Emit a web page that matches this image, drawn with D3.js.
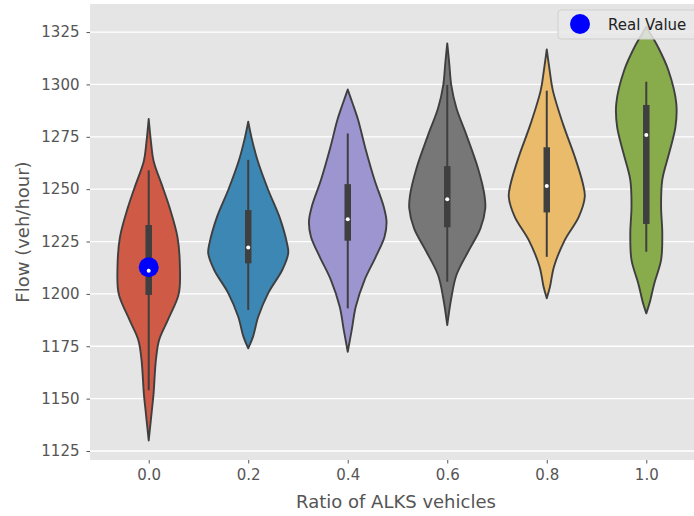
<!DOCTYPE html>
<html>
<head>
<meta charset="utf-8">
<script src="https://cdn.jsdelivr.net/npm/d3@7"></script>
<style>
  html, body { margin: 0; padding: 0; background: #fff; }
  text { font-family: "DejaVu Sans", sans-serif; }
</style>
</head>
<body>
<div id="chart"></div>
<script>
// categories on the x axis (ratio of ALKS vehicles)
const categories = ["0.0", "0.2", "0.4", "0.6", "0.8", "1.0"];
const violinColors = ["#CF5A45", "#3C87B4", "#9C95D0", "#777777", "#EBBB6C", "#88AC4C"];
const yTicks = [1125, 1150, 1175, 1200, 1225, 1250, 1275, 1300, 1325];

// violin outlines: [flow, relative density]
const density00 = [[1283.5, 0], [1272, 0.06], [1263.6, 0.12], [1250.9, 0.35], [1241.3, 0.52], [1227, 0.72],
  [1213, 0.78], [1200, 0.75], [1187.6, 0.48], [1178, 0.26], [1168.5, 0.18], [1152, 0.12], [1144.6, 0.08], [1130, 0]];
const density02 = [[1282.2, 0], [1274, 0.09], [1263.9, 0.23], [1249.6, 0.5], [1236.8, 0.78], [1224.1, 0.97],
  [1219.4, 1.0], [1211.4, 0.85], [1200.4, 0.5], [1189.1, 0.25], [1179.6, 0.12], [1174, 0]];
const density04 = [[1297.6, 0], [1291, 0.12], [1283, 0.26], [1270.3, 0.43], [1254.4, 0.67], [1241.6, 0.9],
  [1234.5, 0.97], [1227.3, 0.92], [1217.7, 0.7], [1206.6, 0.42], [1193.9, 0.2], [1182.8, 0.1], [1172.4, 0]];
const density06 = [[1319.6, 0], [1310, 0.05], [1299.7, 0.1], [1288.6, 0.23], [1275.8, 0.48], [1259.9, 0.77],
  [1247.2, 0.93], [1240.8, 0.95], [1231.3, 0.83], [1220.1, 0.52], [1209, 0.23], [1197.9, 0.1], [1185.1, 0]];
const density08 = [[1316.7, 0], [1307, 0.07], [1297.3, 0.15], [1281.4, 0.4], [1265.5, 0.7], [1252.8, 0.9],
  [1246.4, 0.95], [1236.8, 0.8], [1225.7, 0.45], [1213, 0.18], [1203.4, 0.08], [1197.9, 0]];
const density10 = [[1327.5, 0], [1323, 0.14], [1318, 0.29], [1306.9, 0.55], [1291, 0.75], [1279.8, 0.73],
  [1267.1, 0.57], [1254.4, 0.4], [1241.6, 0.37], [1228.9, 0.4], [1216.2, 0.37], [1205, 0.2], [1195.5, 0.08], [1190.7, 0]];
const densities = [density00, density02, density04, density06, density08, density10];

// inner box statistics
const medians = [1211, 1222.2, 1235.6, 1245.2, 1251.5, 1275.8];
const q1s = [1199.5, 1214.6, 1225.4, 1231.8, 1238.9, 1233.4];
const q3s = [1232.9, 1240, 1252.4, 1261, 1270, 1290.2];
const whiskerLows = [1154, 1192.3, 1193.1, 1205.8, 1217.7, 1220.1];
const whiskerHighs = [1259, 1264, 1276.6, 1299.7, 1297, 1301.3];

// measured value
const realValues = [{ category: "0.0", flow: 1212.7 }];

const W = 694, H = 516;
const plot = { left: 90, top: 4, right: 705, bottom: 460 };
const dark = "#3f3f3f";

const svg = d3.select("#chart").append("svg")
  .attr("width", W).attr("height", H);

const xScale = d3.scaleLinear().domain([-0.59, 5.59]).range([plot.left, plot.right]);
const xPos = (c) => xScale(categories.indexOf(c));
const yScale = d3.scaleLinear().domain([1120.7, 1338.4]).range([plot.bottom, plot.top]);
const wScale = d3.scaleLinear().domain([0, 1]).range([0, 40]);

// background
svg.append("rect")
  .attr("x", plot.left).attr("y", plot.top)
  .attr("width", plot.right - plot.left).attr("height", plot.bottom - plot.top)
  .attr("fill", "#E5E5E5");

// horizontal grid
svg.append("g")
  .selectAll("line")
  .data(yTicks)
  .enter()
  .append("line")
  .attr("x1", plot.left).attr("x2", plot.right)
  .attr("y1", (d) => yScale(d)).attr("y2", (d) => yScale(d))
  .attr("stroke", "#fff").attr("stroke-width", 1.3);

// Y axis
const yAxis = svg.append("g")
  .attr("transform", `translate(${plot.left},0)`)
  .call(d3.axisLeft(yScale).tickValues(yTicks).tickSize(3.5).tickPadding(7).tickFormat(d3.format("d")));
yAxis.select(".domain").remove();
yAxis.selectAll("line").attr("stroke", "#555");
yAxis.selectAll("text").attr("fill", "#555").style("font-size", "15px");

// X axis
const xAxis = svg.append("g")
  .attr("transform", `translate(0,${plot.bottom})`)
  .call(d3.axisBottom(xScale).tickValues(d3.range(categories.length))
    .tickSize(3.5).tickPadding(6).tickFormat((i) => categories[i]));
xAxis.select(".domain").remove();
xAxis.selectAll("line").attr("stroke", "#555");
xAxis.selectAll("text").attr("fill", "#555").style("font-size", "15px");

// axis labels
svg.append("text")
  .attr("x", 396).attr("y", 508)
  .attr("text-anchor", "middle")
  .attr("fill", "#555").style("font-size", "18px")
  .text("Ratio of ALKS vehicles");

svg.append("text")
  .attr("transform", `translate(29,232) rotate(-90)`)
  .attr("text-anchor", "middle")
  .attr("fill", "#555").style("font-size", "18px")
  .text("Flow (veh/hour)");

// violins
categories.forEach((c, i) => {
  const cx = xPos(c);
  const area = d3.area()
    .curve(d3.curveCatmullRom.alpha(0.5))
    .y((d) => yScale(d[0]))
    .x0((d) => cx - wScale(d[1]))
    .x1((d) => cx + wScale(d[1]));

  svg.append("path")
    .datum(densities[i])
    .attr("d", area)
    .attr("fill", violinColors[i])
    .attr("stroke", dark)
    .attr("stroke-width", 1.9)
    .attr("stroke-linejoin", "round");

  // whisker
  svg.append("line")
    .attr("x1", cx).attr("x2", cx)
    .attr("y1", yScale(whiskerLows[i])).attr("y2", yScale(whiskerHighs[i]))
    .attr("stroke", dark).attr("stroke-width", 2);

  // box
  svg.append("line")
    .attr("x1", cx).attr("x2", cx)
    .attr("y1", yScale(q1s[i])).attr("y2", yScale(q3s[i]))
    .attr("stroke", dark).attr("stroke-width", 6.5);
});

// real value marker
svg.append("g")
  .selectAll("circle")
  .data(realValues)
  .enter()
  .append("circle")
  .attr("cx", (d) => xPos(d.category))
  .attr("cy", (d) => yScale(d.flow))
  .attr("r", 10)
  .attr("fill", "#0000FF");

// medians
svg.append("g")
  .selectAll("circle")
  .data(medians)
  .enter()
  .append("circle")
  .attr("cx", (d, i) => xPos(categories[i]))
  .attr("cy", (d) => yScale(d))
  .attr("r", 2)
  .attr("fill", "#fff");

// legend
const legend = svg.append("g").attr("transform", "translate(558,10)");
legend.append("rect")
  .attr("width", 150).attr("height", 29).attr("rx", 3)
  .attr("fill", "#E9E9E9").attr("fill-opacity", 0.85)
  .attr("stroke", "#cfcfcf");
legend.append("circle")
  .attr("cx", 22).attr("cy", 14).attr("r", 10)
  .attr("fill", "#0000FF");
legend.append("text")
  .attr("x", 50).attr("y", 19.5)
  .attr("fill", "#222").style("font-size", "15px")
  .text("Real Value");
</script>
</body>
</html>
